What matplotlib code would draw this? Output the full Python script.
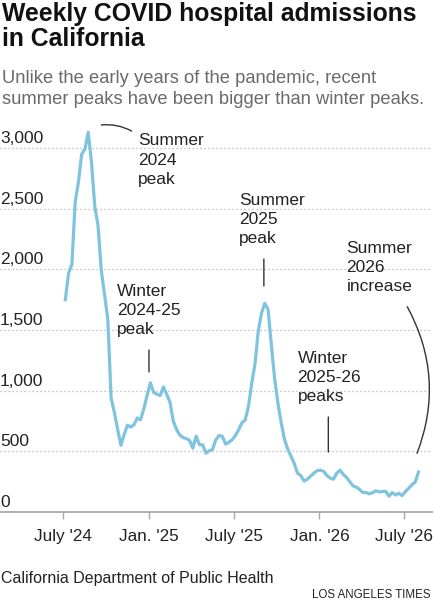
import numpy as np
import pandas as pd
import matplotlib
matplotlib.use("Agg")
import matplotlib.pyplot as plt
import matplotlib.transforms as mtransforms

plt.rcParams['font.family'] = ['Liberation Sans', 'DejaVu Sans']

# weekly admissions, starting week of July 6, 2024
start_date = "2024-07-06"
admissions = [
    1750, 1970, 2040, 2550, 2720, 2950, 2990, 3130, 2880, 2520,
    2360, 1990, 1790, 1585, 940, 820, 680, 550, 640, 715,
    700, 720, 775, 760, 850, 960, 1065, 985, 970, 960,
    1030, 970, 905, 750, 680, 635, 614, 605, 590, 526,
    625, 555, 554, 485, 505, 515, 595, 630, 625, 560,
    575, 595, 630, 678, 735, 758, 870, 1060, 1220, 1490,
    1640, 1720, 1670, 1380, 1100, 900, 740, 600, 520, 460,
    400, 320, 300, 255, 270, 295, 320, 340, 345, 335,
    300, 280, 270, 320, 345, 310, 285, 250, 215, 205,
    185, 160, 160, 150, 160, 175, 165, 170, 170, 130,
    160, 140, 155, 135, 168, 195, 225, 245, 330,
]
dates = pd.date_range(start_date, periods=len(admissions), freq="7D")

y_ticks = [0, 500, 1000, 1500, 2000, 2500, 3000]
x_tick_dates = ["2024-07-01", "2025-01-01", "2025-07-01", "2026-01-01", "2026-07-01"]
x_tick_labels = ["July '24", "Jan. '25", "July '25", "Jan. '26", "July '26"]

# label text, text anchor (date, value), line start, line end, curve
notes = [
    ("Summer\n2024\npeak", "2024-12-08", 3120, ("2024-09-21", 3190), ("2024-11-25", 3140), -0.15),
    ("Winter\n2024-25\npeak", "2024-10-24", 1880, ("2025-01-01", 1335), ("2025-01-01", 1154), 0),
    ("Summer\n2025\npeak", "2025-07-13", 2630, ("2025-09-04", 2085), ("2025-09-04", 1863), 0),
    ("Winter\n2025-26\npeaks", "2025-11-15", 1330, ("2026-01-20", 783), ("2026-01-20", 494), 0),
    ("Summer\n2026\nincrease", "2026-02-28", 2235, ("2026-07-08", 1692), ("2026-07-29", 484), -0.23),
]

line_color = "#7fc4df"
text_dark = "#222222"

fig = plt.figure(figsize=(4.34, 6.0), dpi=100)
ax = fig.add_axes([0, 1 - 512 / 600, 432 / 434, (512 - 115) / 600])

ax.plot(dates, admissions, color=line_color, lw=2.3, solid_joinstyle="round", zorder=3)

ppd = 341 / 730  # pixels per day
d0 = pd.Timestamp("2024-07-01")
ax.set_xlim(d0 - pd.Timedelta(days=63 / ppd), d0 + pd.Timedelta(days=369 / ppd))
ax.set_ylim(0, (512 - 115) * 3000 / 364)

for s in ["top", "right", "left"]:
    ax.spines[s].set_visible(False)
ax.spines["bottom"].set_color("#a8a8a8")
ax.spines["bottom"].set_linewidth(1.3)

ax.set_yticks([])
for v in y_ticks[1:]:
    ax.axhline(v, color="#b0b0b0", lw=0.9, ls=(0, (1, 2.2)), zorder=1)

lab_tr = mtransforms.blended_transform_factory(ax.transAxes, ax.transData) + \
    mtransforms.ScaledTranslation(0, 5 / 100, fig.dpi_scale_trans)
for v in y_ticks:
    ax.text(0, v, f"{v:,}", transform=lab_tr, ha="left", va="baseline",
            fontsize=12.5, color=text_dark)

ax.set_xticks(pd.to_datetime(x_tick_dates))
ax.set_xticklabels(x_tick_labels, fontsize=12.3, color=text_dark)
ax.tick_params(axis="x", length=5, width=1, color="#a8a8a8", pad=7)

for label, tx, ty, p0, p1, rad in notes:
    ax.text(pd.Timestamp(tx), ty, label, ha="left", va="top", fontsize=12.5,
            color=text_dark, linespacing=1.34)
    ax.annotate("", xy=(pd.Timestamp(p1[0]), p1[1]),
                xytext=(pd.Timestamp(p0[0]), p0[1]),
                arrowprops=dict(arrowstyle="-", color="#333333", lw=1,
                                shrinkA=0, shrinkB=0,
                                connectionstyle=f"arc3,rad={rad}"),
                annotation_clip=False)

def fig_text(x, y, s, **kw):
    fig.text(x / 434, 1 - y / 600, s, **kw)

fig_text(2, 21, "Weekly COVID hospital admissions", fontsize=17.8,
         fontweight="bold", color="#111111", va="baseline")
fig_text(2, 46, "in California", fontsize=17.8,
         fontweight="bold", color="#111111", va="baseline")
fig_text(2, 83, "Unlike the early years of the pandemic, recent",
         fontsize=13.2, color="#6a6a6a", va="baseline")
fig_text(2, 104, "summer peaks have been bigger than winter peaks.",
         fontsize=13.2, color="#6a6a6a", va="baseline")
fig_text(1, 583, "California Department of Public Health", fontsize=11.5,
         color=text_dark, va="baseline")
fig_text(431, 598, "LOS ANGELES TIMES", fontsize=8.3, color=text_dark,
         ha="right", va="baseline")

fig.savefig("out.png", dpi=100)
